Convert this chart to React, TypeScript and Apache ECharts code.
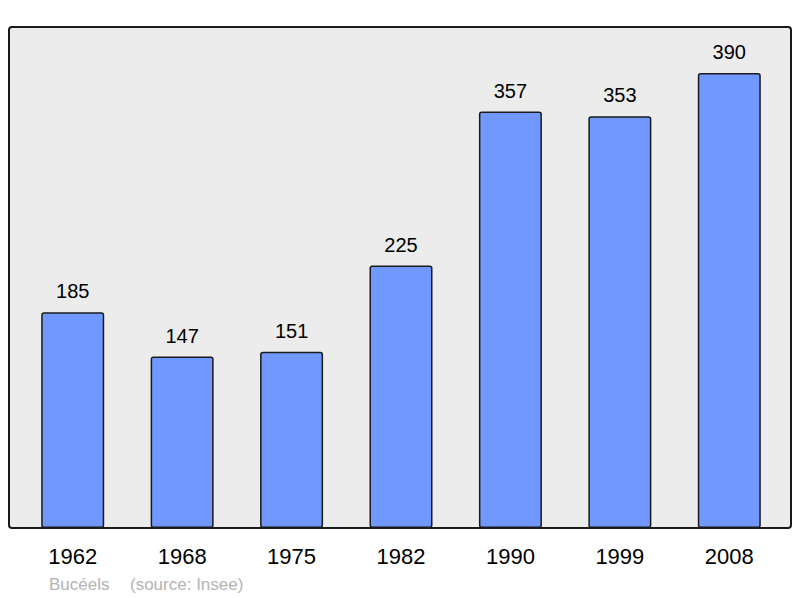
import React, { useEffect, useRef } from "react";
import * as echarts from "echarts";

const years = ["1962", "1968", "1975", "1982", "1990", "1999", "2008"];
const population = [185, 147, 151, 225, 357, 353, 390];
const footerPlace = "Bucéels";
const footerSource = "(source: Insee)";

export default function App() {
  const ref = useRef<HTMLDivElement>(null);
  useEffect(() => {
    document.body.style.margin = "0";
    const chart = echarts.init(ref.current!, null, { renderer: "svg" });
    chart.setOption({
      animation: false,
      backgroundColor: "#ffffff",
      textStyle: { fontFamily: "Liberation Sans, Arial, sans-serif" },
      graphic: [
        {
          type: "rect",
          shape: { x: 9, y: 27, width: 782, height: 501, r: 3 },
          style: { fill: "#ececec", stroke: "#1a1a1a", lineWidth: 2 },
          z: -10,
          silent: true,
        },
        {
          type: "text",
          x: 49,
          y: 584,
          style: {
            text: footerPlace,
            fill: "#b3b3b3",
            font: "17px Liberation Sans, Arial, sans-serif",
            verticalAlign: "middle",
          },
        },
        {
          type: "text",
          x: 130,
          y: 584,
          style: {
            text: footerSource,
            fill: "#b3b3b3",
            font: "17px Liberation Sans, Arial, sans-serif",
            verticalAlign: "middle",
          },
        },
      ],
      grid: { left: 18, right: 16, top: 73, bottom: 70 },
      xAxis: {
        type: "category",
        data: years,
        axisLine: { show: false },
        axisTick: { show: false },
        axisLabel: {
          color: "#000",
          fontSize: 22,
          margin: 17,
          fontFamily: "Liberation Sans, Arial, sans-serif",
        },
      },
      yAxis: {
        type: "value",
        min: 0,
        max: 390,
        show: false,
        splitLine: { show: false },
      },
      series: [
        {
          type: "bar",
          data: population,
          barWidth: 63,
          itemStyle: {
            color: "#7098ff",
            borderColor: "#1a1a1a",
            borderWidth: 1.5,
            borderRadius: 2,
          },
          label: {
            show: true,
            position: "top",
            distance: 11,
            color: "#000",
            fontSize: 20,
            fontFamily: "Liberation Sans, Arial, sans-serif",
          },
        },
      ],
    });
    return () => chart.dispose();
  }, []);
  return <div ref={ref} style={{ width: 800, height: 598 }} />;
}
